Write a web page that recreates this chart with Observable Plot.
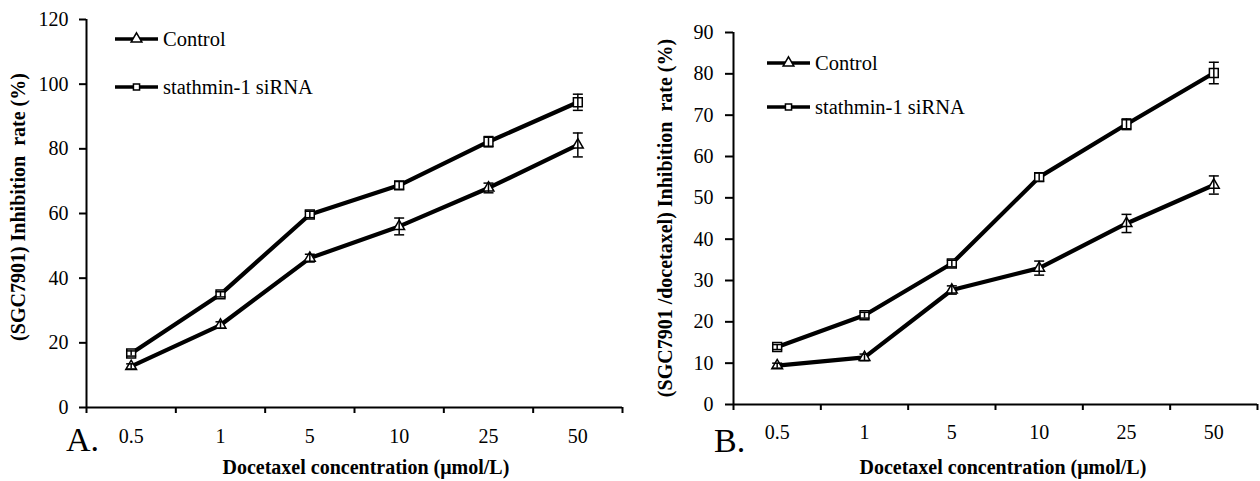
<!DOCTYPE html>
<html>
<head>
<meta charset="utf-8">
<script src="https://cdn.jsdelivr.net/npm/d3@7"></script>
<script src="https://cdn.jsdelivr.net/npm/@observablehq/plot@0.6"></script>
<style>
  html, body { margin: 0; padding: 0; background: #fff; }
  #wrap { position: relative; width: 1260px; height: 481px; overflow: hidden; background: #fff; font-family: "Liberation Serif", "Times New Roman", serif; color: #000; }
  #wrap svg, #wrap svg text { font-family: "Liberation Serif", "Times New Roman", serif !important; }
  .panel { position: absolute; top: 0; }
  .t { position: absolute; white-space: pre; line-height: 1; font-family: "Liberation Serif", "Times New Roman", serif; }
  .ytitle { font-weight: bold; font-size: 20px; transform-origin: center center; }
  .xtitle { font-weight: bold; font-size: 20px; }
  .letter { font-size: 34px; }
</style>
</head>
<body>
<div id="wrap"></div>
<script>
// ---- data ----
const concentrations = ["0.5", "1", "5", "10", "25", "50"];
const seriesNames = ["Control", "stathmin-1 siRNA"];

const aControl    = [12.7, 25.5, 46.2, 56.0, 67.9, 81.2];
const aControlErr = [0.8, 1.0, 1.2, 2.6, 1.5, 3.7];
const aSiRNA      = [16.7, 35.0, 59.7, 68.7, 82.2, 94.4];
const aSiRNAErr   = [0.8, 0.8, 1.0, 1.2, 1.6, 2.5];

const bControl    = [9.4, 11.4, 27.7, 33.0, 43.8, 53.1];
const bControlErr = [0.6, 0.8, 1.0, 1.7, 2.2, 2.2];
const bSiRNA      = [13.9, 21.6, 34.1, 55.0, 67.8, 80.2];
const bSiRNAErr   = [0.6, 0.7, 0.8, 1.0, 1.3, 2.6];

const aYTicks = [0, 20, 40, 60, 80, 100, 120];
const bYTicks = [0, 10, 20, 30, 40, 50, 60, 70, 80, 90];

// ---- helpers ----
const FONT = "'Liberation Serif', 'Times New Roman', serif";
const capSymbol = {
  draw(context, size) {
    const r = Math.sqrt(size / Math.PI);
    context.moveTo(-r, 0);
    context.lineTo(r, 0);
  }
};

function rows(values, errs, name) {
  return values.map((v, i) => ({i: i + 0.5, cat: concentrations[i], v, lo: v - errs[i], hi: v + errs[i], name}));
}

function panel({ctl, sir, yMax, yTicks, width, ml, mr, mt, mb, tickLen, tickPad, xPad}) {
  const marks = [];
  const symbolOf = {"Control": "triangle", "stathmin-1 siRNA": "square"};
  const radiusOf = {"Control": 4, "stathmin-1 siRNA": 5};
  for (const data of [ctl, sir]) {
    const name = data[0].name;
    marks.push(Plot.line(data, {x: "i", y: "v", stroke: "#000", strokeWidth: 4.2, strokeLinejoin: "round"}));
    marks.push(Plot.dot(data, {x: "i", y: "v", symbol: () => symbolOf[name], r: radiusOf[name], fill: "#fff", stroke: "#000", strokeWidth: 1.5}));
    marks.push(Plot.ruleX(data, {x: "i", y1: "lo", y2: "hi", stroke: "#000", strokeWidth: 1.5}));
    marks.push(Plot.dot(data, {x: "i", y: "lo", symbol: capSymbol, r: 5, stroke: "#000", strokeWidth: 1.5}));
    marks.push(Plot.dot(data, {x: "i", y: "hi", symbol: capSymbol, r: 5, stroke: "#000", strokeWidth: 1.5}));
  }
  return Plot.plot({
    width, height: 481,
    marginLeft: ml, marginRight: mr, marginTop: mt, marginBottom: mb,
    style: {fontFamily: FONT, fontSize: "20px", color: "#000", background: "transparent", overflow: "visible"},
    x: {type: "linear", domain: [0, concentrations.length]},
    y: {domain: [0, yMax]},
    marks: [
      Plot.axisY({ticks: yTicks, tickSize: tickLen, tickPadding: tickPad, strokeWidth: 2, label: null, fontSize: 20, fontFamily: FONT, tickFormat: d => String(d)}),
      Plot.axisX({ticks: d3.range(0, concentrations.length + 1), tickSize: 6, strokeWidth: 2, tickFormat: () => "", label: null}),
      Plot.axisX({ticks: concentrations.map((c, i) => i + 0.5), tickSize: 0, tickPadding: xPad, label: null, fontSize: 20, fontFamily: FONT, tickFormat: d => concentrations[Math.round(d - 0.5)]}),
      Plot.ruleX([0], {stroke: "#000", strokeWidth: 2}),
      Plot.ruleY([0], {stroke: "#000", strokeWidth: 2}),
      ...marks
    ]
  });
}

function legend(x, y1, y2) {
  const svg = d3.create("svg").attr("width", 260).attr("height", 80)
    .style("position", "absolute").style("left", x + "px").style("top", (y1 - 12) + "px")
    .style("overflow", "visible");
  const items = [
    {name: seriesNames[0], sym: d3.symbolTriangle, size: Math.PI * 16, dy: 12},
    {name: seriesNames[1], sym: d3.symbolSquare, size: Math.PI * 12, dy: 12 + (y2 - y1)}
  ];
  for (const it of items) {
    svg.append("line").attr("x1", 0).attr("x2", 43).attr("y1", it.dy).attr("y2", it.dy)
      .attr("stroke", "#000").attr("stroke-width", 3.5);
    svg.append("path").attr("d", d3.symbol(it.sym, it.size)()).attr("transform", `translate(21.5,${it.dy})`)
      .attr("fill", "#fff").attr("stroke", "#000").attr("stroke-width", 1.5);
    svg.append("text").attr("x", 48).attr("y", it.dy).attr("dy", "0.35em")
      .style("font-family", FONT).style("font-size", "20.5px")
      .text(it.name);
  }
  return svg.node();
}

const wrap = document.getElementById("wrap");

function addText(cls, text) {
  const d = document.createElement("div");
  d.className = "t " + cls;
  d.textContent = text;
  wrap.appendChild(d);
  return d;
}

// Panel A
const pa = panel({ctl: rows(aControl, aControlErr, "Control"), sir: rows(aSiRNA, aSiRNAErr, "stathmin-1 siRNA"),
  yMax: 120, yTicks: aYTicks, width: 630, ml: 86, mr: 8, mt: 19, mb: 74, tickLen: 7, tickPad: 11, xPad: 21});
pa.classList.add("panel"); pa.style.left = "0px";
wrap.appendChild(pa);

// Panel B
const pb = panel({ctl: rows(bControl, bControlErr, "Control"), sir: rows(bSiRNA, bSiRNAErr, "stathmin-1 siRNA"),
  yMax: 90, yTicks: bYTicks, width: 630, ml: 103, mr: 3, mt: 32, mb: 77, tickLen: 8, tickPad: 12, xPad: 20});
pb.classList.add("panel"); pb.style.left = "630px";
wrap.appendChild(pb);

// Legends
wrap.appendChild(legend(115, 39, 87));
wrap.appendChild(legend(767, 63, 107));

// Titles
const ya = addText("ytitle", "(SGC7901) Inhibition  rate (%)");
const yb = addText("ytitle", "(SGC7901 /docetaxel) Inhibition  rate (%)");
const xa = addText("xtitle", "Docetaxel concentration (\u03bcmol/L)");
const xb = addText("xtitle", "Docetaxel concentration (\u03bcmol/L)");
const la = addText("letter", "A.");
const lb = addText("letter", "B.");
la.style.left = "66px"; la.style.top = "423px";
lb.style.left = "714px"; lb.style.top = "424px";

function center(el, cx, cy, rot) {
  const w = el.offsetWidth, h = el.offsetHeight;
  el.style.left = (cx - w / 2) + "px";
  el.style.top = (cy - h / 2) + "px";
  if (rot) el.style.transform = "rotate(-90deg)";
}
center(ya, 18, 207, true);
center(yb, 665, 218, true);
center(xa, 366, 467, false);
center(xb, 1003, 467, false);
</script>
</body>
</html>
